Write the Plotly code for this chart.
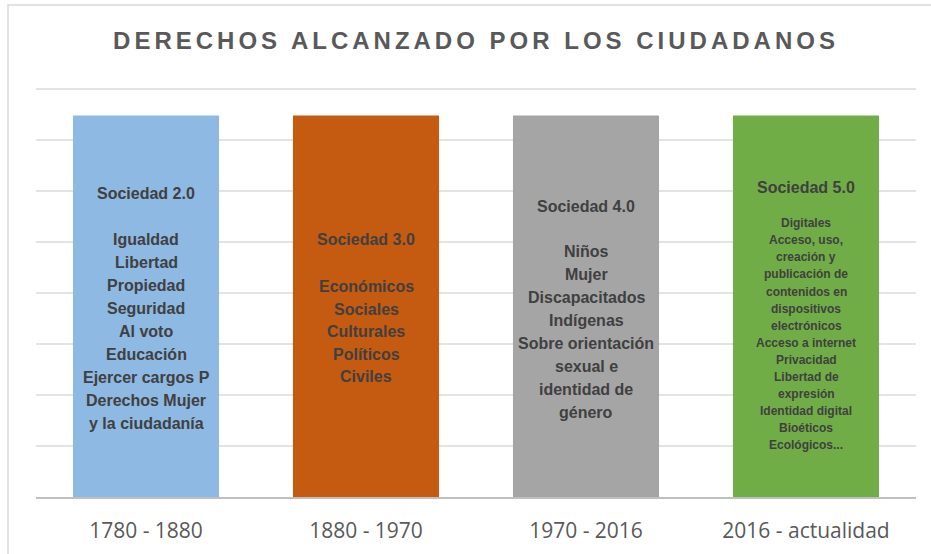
import plotly.graph_objects as go

# Datos del gráfico
periodos = ["1780 - 1880", "1880 - 1970", "1970 - 2016", "2016 - actualidad"]
altura = [7.47, 7.47, 7.47, 7.47]
colores = ["#8DB9E3", "#C55A11", "#A5A5A5", "#70AD47"]
encabezados = ["Sociedad 2.0", "Sociedad 3.0", "Sociedad 4.0", "Sociedad 5.0"]
derechos_20 = ["Igualdad", "Libertad", "Propiedad", "Seguridad", "Al voto", "Educación",
               "Ejercer cargos P", "Derechos Mujer", "y la ciudadanía"]
derechos_30 = ["Económicos", "Sociales", "Culturales", "Políticos", "Civiles"]
derechos_40 = ["Niños", "Mujer", "Discapacitados", "Indígenas", "Sobre orientación",
               "sexual e", "identidad de", "género"]
derechos_50 = ["Digitales", "Acceso, uso,", "creación y", "publicación de", "contenidos en",
               "dispositivos", "electrónicos", "Acceso a internet", "Privacidad", "Libertad de",
               "expresión", "Identidad digital", "Bioéticos", "Ecológicos..."]
derechos = [derechos_20, derechos_30, derechos_40, derechos_50]

fig = go.Figure()
fig.add_trace(go.Bar(
    x=periodos,
    y=altura,
    marker=dict(color=colores, line=dict(width=0)),
    hoverinfo="skip",
))

# Texto dentro de las barras (una anotación por línea)
y_max = 8.05
alto_plot = 554 - 86 - 57
px_unidad = alto_plot / y_max
tam_items = [16, 16, 16, 12]
paso = [23, 22.5, 23, 17.1]
hueco = [46, 47, 45, 36]
desplazamiento = [2, 2, 3, 10]
fuente = "Liberation Sans, Arial, sans-serif"
anotaciones = []
for i, periodo in enumerate(periodos):
    items = derechos[i]
    span = hueco[i] + (len(items) - 1) * paso[i]
    centro = altura[i] / 2 - desplazamiento[i] / px_unidad
    y_top = centro + span / 2 / px_unidad
    anotaciones.append(dict(
        x=periodo, y=y_top, xref="x", yref="y", text="<b>%s</b>" % encabezados[i],
        showarrow=False, yanchor="middle",
        font=dict(family=fuente, size=16, color="#404040"),
    ))
    for k, linea in enumerate(items):
        y = y_top - (hueco[i] + k * paso[i]) / px_unidad
        anotaciones.append(dict(
            x=periodo, y=y, xref="x", yref="y", text="<b>%s</b>" % linea,
            showarrow=False, yanchor="middle",
            font=dict(family=fuente, size=tam_items[i], color="#404040"),
        ))

fig.update_layout(
    width=931,
    height=554,
    margin=dict(l=36, r=15, t=86, b=57),
    paper_bgcolor="white",
    plot_bgcolor="white",
    showlegend=False,
    bargap=0.336,
    title=dict(
        text="<span style='letter-spacing:4px'><b>DERECHOS ALCANZADO POR LOS CIUDADANOS</b></span>",
        x=0.5, xref="paper", xanchor="center",
        y=1 - 41 / 554, yref="container", yanchor="middle",
        font=dict(family=fuente, size=24, color="#595959"),
    ),
    annotations=anotaciones,
    shapes=[dict(
        type="rect", xref="paper", yref="paper",
        x0=(8 - 36) / 880, x1=(940 - 36) / 880,
        y0=-70 / alto_plot, y1=(554 - 57 - 5) / alto_plot,
        line=dict(color="#D9D9D9", width=1.5), layer="below",
    )],
)

fig.update_xaxes(
    showline=True, linecolor="#BFBFBF", linewidth=1.5,
    showgrid=False, ticks="", ticklabelstandoff=14, automargin=False,
    tickfont=dict(family="Open Sans, sans-serif", size=21, color="#595959"),
)
fig.update_yaxes(
    range=[0, y_max], dtick=1, showticklabels=False, automargin=False,
    showgrid=True, gridcolor="#E3E3E3", gridwidth=1.5,
    zeroline=False, showline=False,
)

fig.write_html("out.html", config={"displayModeBar": False},
               post_script="document.body.style.margin='0';")
